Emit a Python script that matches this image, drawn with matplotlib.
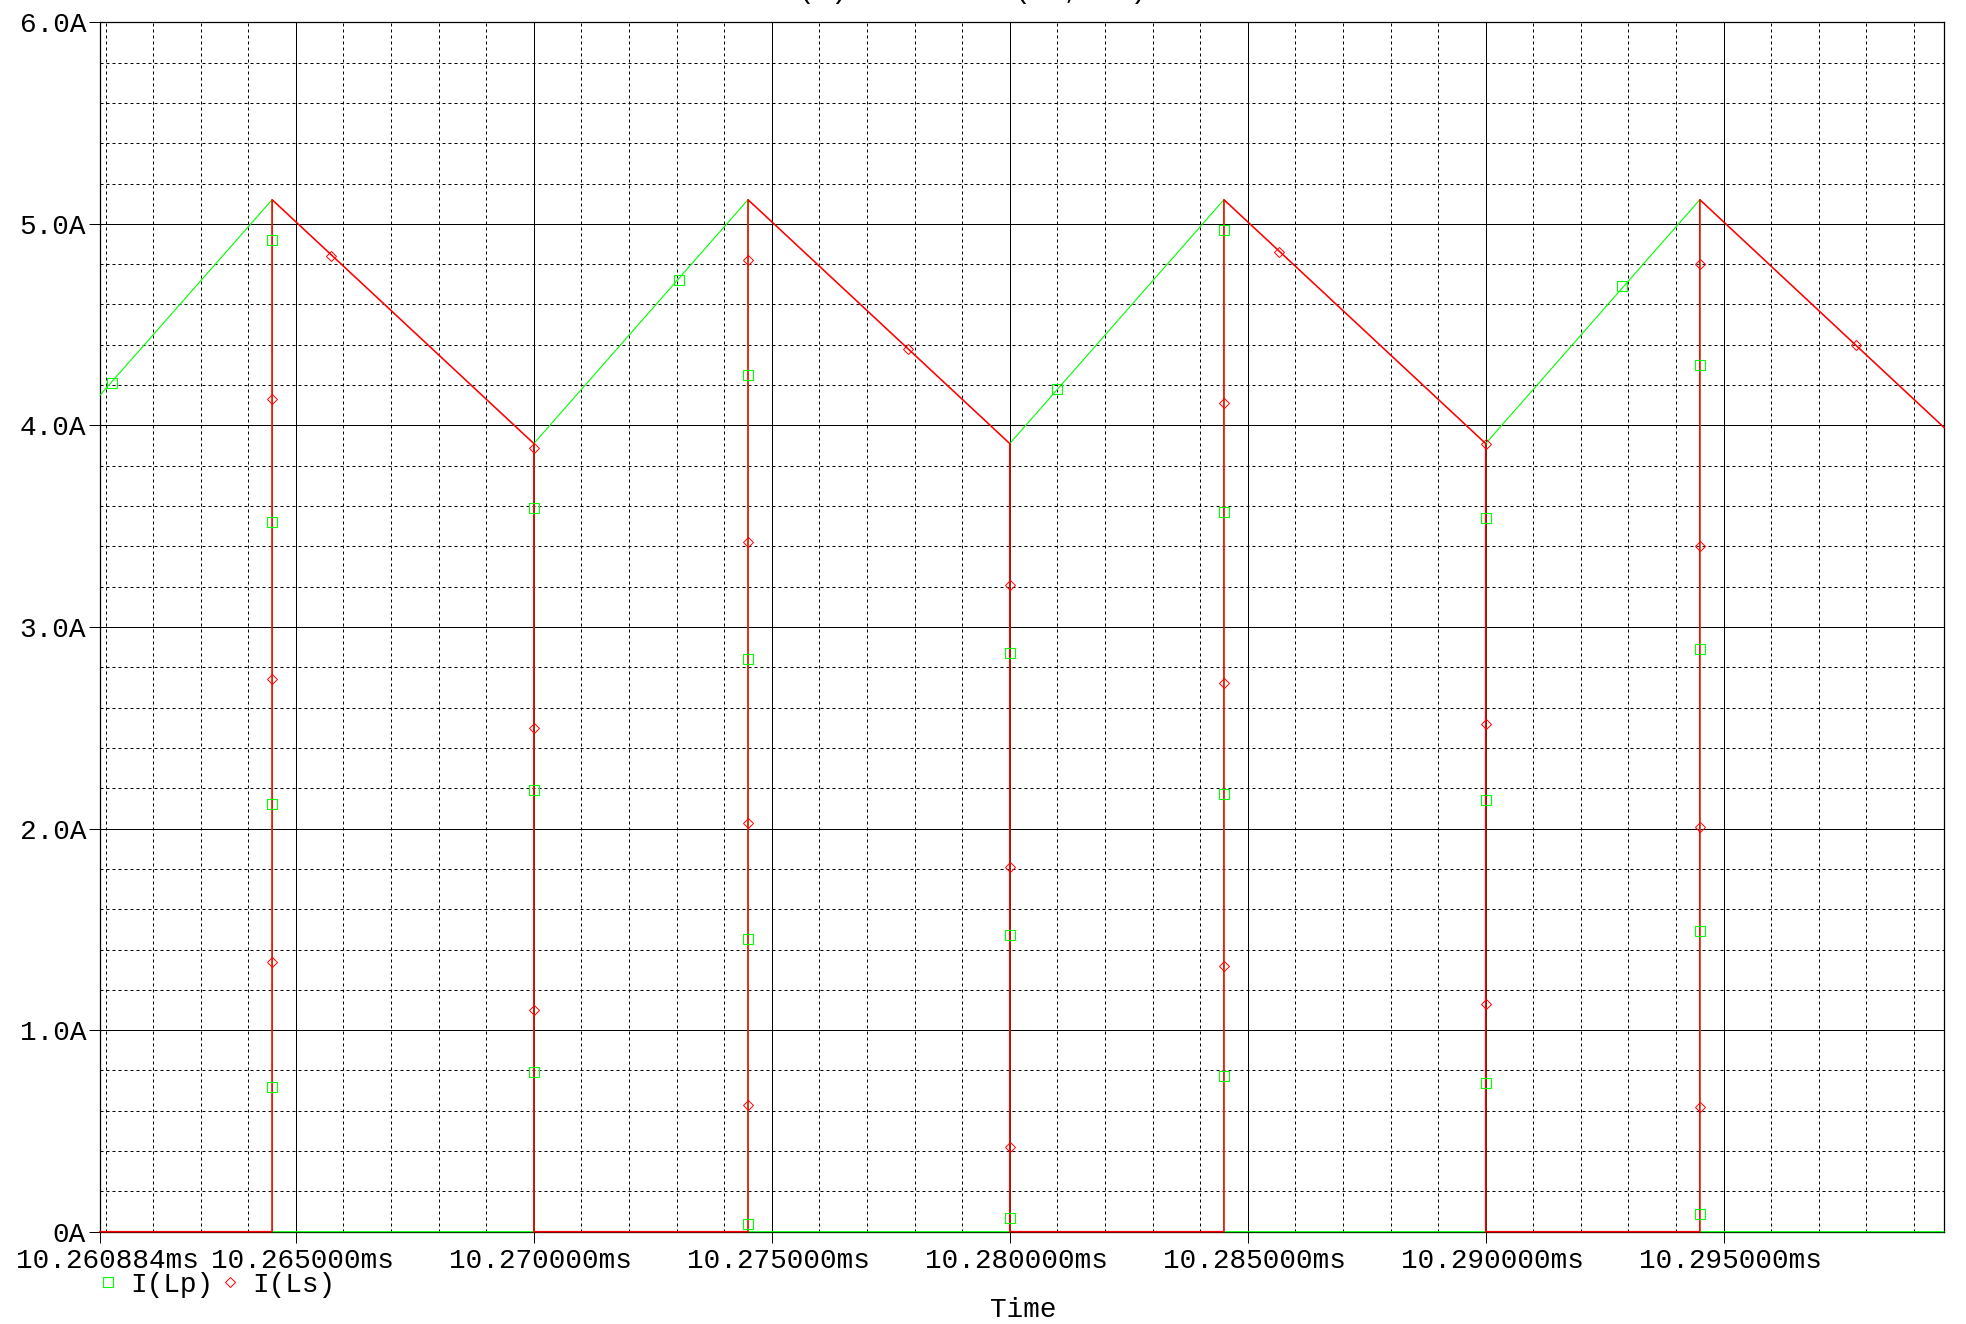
import matplotlib
matplotlib.use("Agg")
import matplotlib.pyplot as plt
from matplotlib.lines import Line2D
from matplotlib.transforms import ScaledTranslation

plt.rcParams['font.family'] = ['Liberation Mono', 'DejaVu Sans Mono']

# --- data (time in ms, current in A) ---
t_lp = [10.260884, 10.2645, 10.2645, 10.270, 10.270, 10.2745, 10.2745, 10.280,
        10.280, 10.2845, 10.2845, 10.290, 10.290, 10.2945, 10.2945, 10.29963]
i_lp = [4.15, 5.12, 0.0, 0.0, 3.91, 5.12, 0.0, 0.0,
        3.91, 5.12, 0.0, 0.0, 3.91, 5.12, 0.0, 0.0]

t_ls = [10.260884, 10.2645, 10.2645, 10.270, 10.270, 10.2745, 10.2745, 10.280,
        10.280, 10.2845, 10.2845, 10.290, 10.290, 10.2945, 10.2945, 10.29963]
i_ls = [0.0, 0.0, 5.12, 3.91, 0.0, 0.0, 5.12, 3.91,
        0.0, 0.0, 5.12, 3.91, 0.0, 0.0, 5.12, 3.99]

# marker positions along the traces
lp_mark_t = [10.26113, 10.2645, 10.2645, 10.2645, 10.2645, 10.270, 10.270, 10.270,
             10.27305, 10.2745, 10.2745, 10.2745, 10.2745, 10.280, 10.280, 10.280,
             10.2810, 10.2845, 10.2845, 10.2845, 10.2845, 10.290, 10.290, 10.290,
             10.29287, 10.2945, 10.2945, 10.2945, 10.2945]
lp_mark_i = [4.21, 4.92, 3.52, 2.12, 0.72, 3.59, 2.19, 0.79,
             4.72, 4.25, 2.84, 1.45, 0.04, 2.87, 1.47, 0.07,
             4.18, 4.97, 3.57, 2.17, 0.77, 3.54, 2.14, 0.74,
             4.69, 4.30, 2.89, 1.49, 0.09]

ls_mark_t = [10.26574, 10.2645, 10.2645, 10.2645, 10.270, 10.270, 10.270,
             10.2745, 10.2745, 10.2745, 10.2745, 10.27787, 10.280, 10.280, 10.280,
             10.2845, 10.2845, 10.2845, 10.28566, 10.290, 10.290, 10.290,
             10.2945, 10.2945, 10.2945, 10.2945, 10.29779]
ls_mark_i = [4.84, 4.13, 2.74, 1.34, 3.89, 2.50, 1.10,
             4.82, 3.42, 2.03, 0.63, 4.38, 3.21, 1.81, 0.42,
             4.11, 2.72, 1.32, 4.86, 3.91, 2.52, 1.13,
             4.80, 3.40, 2.01, 0.62, 4.40]

x_ticks = [10.260884, 10.265, 10.270, 10.275, 10.280, 10.285, 10.290, 10.295]
x_labels = ['10.260884ms', '10.265000ms', '10.270000ms', '10.275000ms',
            '10.280000ms', '10.285000ms', '10.290000ms', '10.295000ms']
x_minor = [10.261, 10.262, 10.263, 10.264, 10.266, 10.267, 10.268, 10.269,
           10.271, 10.272, 10.273, 10.274, 10.276, 10.277, 10.278, 10.279,
           10.281, 10.282, 10.283, 10.284, 10.286, 10.287, 10.288, 10.289,
           10.291, 10.292, 10.293, 10.294, 10.296, 10.297, 10.298, 10.299]
y_ticks = [0, 1, 2, 3, 4, 5, 6]
y_labels = ['0A', '1.0A', '2.0A', '3.0A', '4.0A', '5.0A', '6.0A']
y_minor = [0.2, 0.4, 0.6, 0.8, 1.2, 1.4, 1.6, 1.8, 2.2, 2.4, 2.6, 2.8,
           3.2, 3.4, 3.6, 3.8, 4.2, 4.4, 4.6, 4.8, 5.2, 5.4, 5.6, 5.8]

W, H = 1966, 1324
fig = plt.figure(figsize=(W / 100, H / 100), dpi=100)
ax = fig.add_axes([100 / W, 1 - 1231.7 / H, (1944 - 100) / W, (1231.7 - 22.3) / H])

GREEN = '#00ff00'
RED = '#ff0000'

ax.plot(t_lp, i_lp, color=GREEN, lw=0.8, zorder=3, clip_on=False)
ax.plot(t_ls, i_ls, color=RED, lw=1.15, zorder=3.1, clip_on=False)
ax.plot(lp_mark_t, lp_mark_i, ls='none', marker='s', ms=7.2, mfc='none',
        mec=GREEN, mew=0.8, zorder=4, clip_on=False)
ax.plot(ls_mark_t, ls_mark_i, ls='none', marker='D', ms=5.6, mfc='none',
        mec=RED, mew=0.7, zorder=4.1, clip_on=False)

ax.set_xlim(10.260884, 10.29963)
ax.set_ylim(0, 6)
ax.set_xticks(x_ticks)
ax.set_xticklabels(x_labels)
ax.set_xticks(x_minor, minor=True)
ax.set_yticks(y_ticks)
ax.set_yticklabels(y_labels)
ax.set_yticks(y_minor, minor=True)

ax.tick_params(which='major', direction='out', length=8, width=0.72,
               color='black', labelsize=20, pad=2)
ax.tick_params(axis='x', which='major', pad=4)
ax.tick_params(which='minor', length=0)

ax.set_axisbelow(True)
ax.grid(which='major', color='black', lw=0.72, ls='-')
ax.grid(which='minor', color='black', lw=0.72, ls=(0, (3, 3)))
for s in ax.spines.values():
    s.set_linewidth(0.9)
    s.set_color('black')

fig.canvas.draw()
for lab in ax.get_xticklabels():
    lab.set_transform(lab.get_transform() + ScaledTranslation(7 / 100, 0, fig.dpi_scale_trans))

handles = [Line2D([], [], ls='none', marker='s', ms=7.2, mfc='none', mec=GREEN, mew=0.8),
           Line2D([], [], ls='none', marker='D', ms=5.6, mfc='none', mec=RED, mew=0.7)]
fig.legend(handles, ['I(Lp)', 'I(Ls)'], loc='center left',
           bbox_to_anchor=(101 / W, 1 - 1285 / H), ncol=2, frameon=False,
           fontsize=20, handlelength=0.5, handletextpad=0.55, columnspacing=0.35,
           borderpad=0, borderaxespad=0)

fig.text(1023 / W, 1 - 1310 / H, 'Time', ha='center', va='center', fontsize=20)
# title sits above the window as in the reference, only its lowest part shows
fig.text((799 - 8 * 16.8) / W, 1 + 2 / H, 'Current (A) in coils (LP, LS)',
         ha='left', va='baseline', fontsize=20)

fig.savefig('out.png', dpi=100)
